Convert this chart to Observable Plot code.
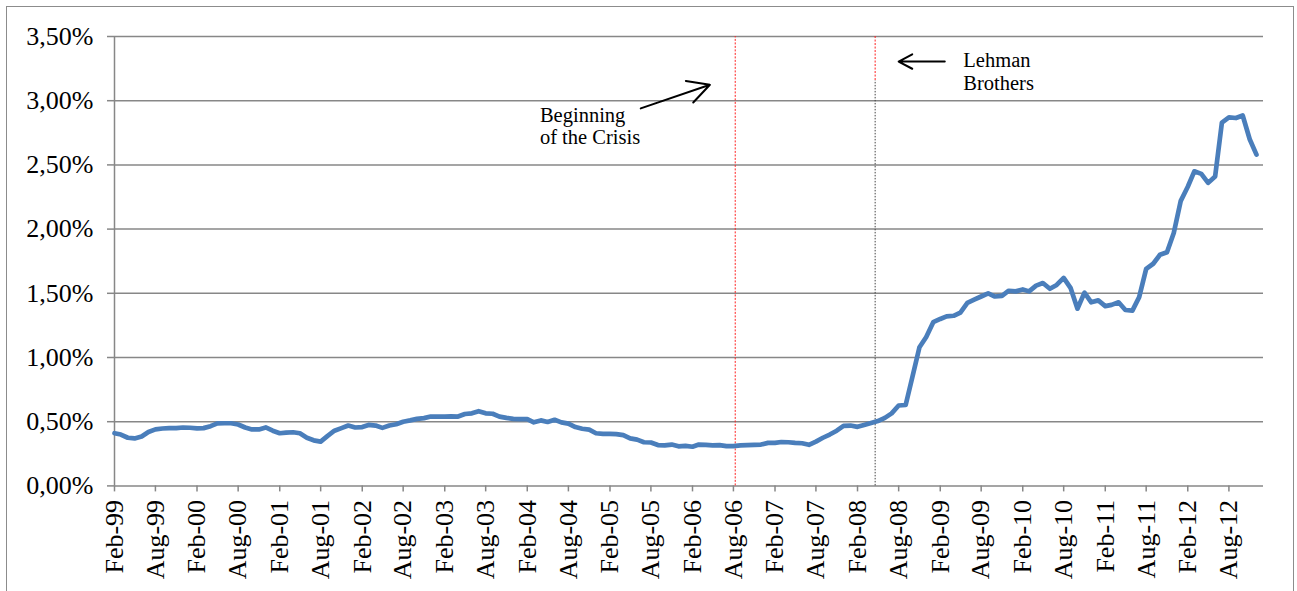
<!DOCTYPE html>
<html><head><meta charset="utf-8">
<script src="https://cdn.jsdelivr.net/npm/d3@7"></script>
<script src="https://cdn.jsdelivr.net/npm/@observablehq/plot@0.6"></script>
<style>
html,body{margin:0;padding:0;background:#fff;overflow:hidden;}
#wrap{position:relative;width:1297px;height:591px;}
#frame{position:absolute;left:6px;top:6px;width:1288px;height:640px;border:1.5px solid #8c8c8c;box-sizing:border-box;}
#chart{position:absolute;left:0;top:0;}
</style></head><body><div id="wrap"><div id="frame"></div><div id="chart"></div></div>
<script>
// ---- data (monthly, percent) ----
const firstMonth = "1999-02-01";
const lastAxisMonth = "2013-01-01";
const values = [
  0.41,0.40,0.375,0.37,0.385,0.42,0.44,0.447,0.45,0.45,
  0.455,0.453,0.448,0.45,0.465,0.487,0.488,0.488,0.478,0.455,
  0.44,0.44,0.455,0.43,0.41,0.415,0.418,0.41,0.375,0.355,
  0.345,0.39,0.43,0.45,0.47,0.455,0.458,0.475,0.47,0.452,
  0.47,0.48,0.50,0.51,0.522,0.528,0.54,0.54,0.54,0.542,
  0.54,0.56,0.565,0.582,0.565,0.562,0.54,0.53,0.522,0.52,
  0.52,0.495,0.51,0.498,0.515,0.495,0.485,0.458,0.445,0.438,
  0.41,0.405,0.405,0.403,0.395,0.37,0.36,0.34,0.338,0.318,
  0.315,0.322,0.308,0.312,0.305,0.322,0.32,0.315,0.318,0.31,
  0.31,0.315,0.318,0.32,0.322,0.335,0.335,0.342,0.34,0.335,
  0.332,0.32,0.345,0.375,0.40,0.43,0.468,0.47,0.46,0.475,
  0.49,0.505,0.53,0.565,0.626,0.63,0.85,1.08,1.16,1.275,
  1.30,1.32,1.325,1.35,1.425,1.45,1.475,1.50,1.475,1.48,
  1.52,1.515,1.53,1.515,1.56,1.58,1.535,1.565,1.62,1.54,
  1.38,1.505,1.43,1.445,1.40,1.41,1.43,1.37,1.365,1.47,
  1.69,1.73,1.80,1.82,1.97,2.22,2.33,2.45,2.43,2.36,
  2.41,2.83,2.87,2.865,2.885,2.70,2.58
];
const yTicks = [0, 0.5, 1, 1.5, 2, 2.5, 3, 3.5];
const xTickLabels = ["Feb-99","Aug-99","Feb-00","Aug-00","Feb-01","Aug-01","Feb-02","Aug-02",
  "Feb-03","Aug-03","Feb-04","Aug-04","Feb-05","Aug-05","Feb-06","Aug-06","Feb-07","Aug-07",
  "Feb-08","Aug-08","Feb-09","Aug-09","Feb-10","Aug-10","Feb-11","Aug-11","Feb-12","Aug-12"];
const crisisDate = "2006-08-09";
const lehmanDate = "2008-04-19";
const lehmanSplit = 3.157;
const labelTexts = ["Beginning\nof the Crisis", "Lehman\nBrothers"];
const labelDates = ["2004-03-28", "2009-05-14"];
const labelValues = [2.659, 3.085];
const arrowFromDates = ["2005-06-17", "2009-02-21"];
const arrowFromValues = [2.94, 3.305];
const arrowToDates = ["2006-04-19", "2008-08-01"];
const arrowToValues = [3.124, 3.305];

// ---- build ----
const start = new Date(firstMonth);
const series = values.map((v, i) => ({date: d3.utcMonth.offset(start, i), value: v}));
const parseTick = d3.utcParse("%b-%y");
const tickDates = xTickLabels.map(parseTick);
const labels = labelTexts.map((t, i) => ({text: t, date: new Date(labelDates[i]), value: labelValues[i]}));
const arrows = arrowFromDates.map((d, i) => ({x1: new Date(d), y1: arrowFromValues[i], x2: new Date(arrowToDates[i]), y2: arrowToValues[i]}));
const grey = "#878787";
const fmtY = d => d.toFixed(2).replace(".", ",") + "%";

const chart = Plot.plot({
  width: 1297, height: 591,
  marginLeft: 114, marginRight: 34, marginTop: 36, marginBottom: 105.6,
  style: {fontFamily: "'Liberation Serif', 'Times New Roman', serif", background: "transparent", color: "black"},
  x: {type: "utc", domain: [start, new Date(lastAxisMonth)]},
  y: {domain: [0, 3.5]},
  marks: [
    Plot.gridY(yTicks, {stroke: grey, strokeOpacity: 1, strokeWidth: 1.5}),
    Plot.ruleX([start], {y1: 0, y2: 3.5, stroke: grey, strokeWidth: 1.5}),
    Plot.axisY({ticks: yTicks, tickFormat: fmtY, tickSize: 7, tickPadding: 14, stroke: grey, strokeWidth: 1.5, fill: "black", fontSize: 26, label: null}),
    Plot.axisX({ticks: tickDates, tickFormat: d3.utcFormat("%b-%y"), tickRotate: -90, tickSize: 6, tickPadding: 8, stroke: grey, strokeWidth: 1.5, fill: "black", fontSize: 26, label: null}),
    Plot.ruleX([new Date(crisisDate)], {y1: 0, y2: 3.5, stroke: "#ff2020", strokeWidth: 1, strokeDasharray: "2,1.5"}),
    Plot.ruleX([new Date(lehmanDate)], {y1: lehmanSplit, y2: 3.5, stroke: "#ff2020", strokeWidth: 1, strokeDasharray: "2,1.5"}),
    Plot.ruleX([new Date(lehmanDate)], {y1: 0, y2: lehmanSplit, stroke: "#444", strokeWidth: 1, strokeDasharray: "1.5,1.5"}),
    Plot.line(series, {x: "date", y: "value", stroke: "#4a7ebb", strokeWidth: 4.7, strokeLinejoin: "round", strokeLinecap: "round"}),
    Plot.text(labels, {x: "date", y: "value", text: "text", textAnchor: "start", lineAnchor: "bottom", lineHeight: 1.1, fontSize: 20.5, fill: "black"}),
    Plot.arrow(arrows, {x1: "x1", y1: "y1", x2: "x2", y2: "y2", stroke: "black", strokeWidth: 2, headLength: 20, headAngle: 56})
  ]
});
document.getElementById("chart").appendChild(chart);
</script>
</body></html>
